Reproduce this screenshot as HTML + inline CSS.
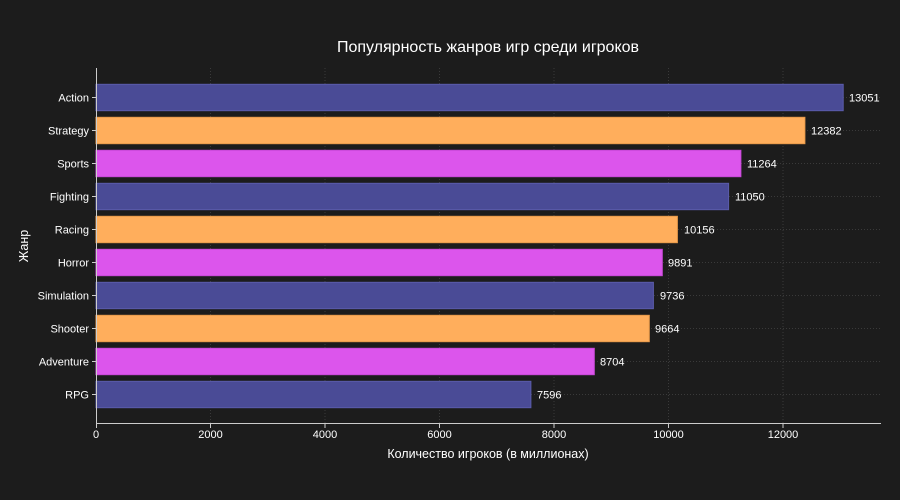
<!DOCTYPE html>
<html><head><meta charset="utf-8"><style>
html,body{margin:0;padding:0;background:#1c1c1c;}
svg{display:block;font-family:"Liberation Sans","DejaVu Sans",sans-serif;}
</style></head><body>
<svg width="900" height="500" viewBox="0 0 900 500" xmlns="http://www.w3.org/2000/svg">
<rect width="900" height="500" fill="#1c1c1c"/>
<text x="488" y="52" fill="#ffffff" font-size="16" text-anchor="middle">Популярность жанров игр среди игроков</text>
<g stroke="#3a3a3a" stroke-width="1" stroke-dasharray="1,2">
<line x1="210.5" y1="68" x2="210.5" y2="423"/>
<line x1="325" y1="68" x2="325" y2="423"/>
<line x1="439.5" y1="68" x2="439.5" y2="423"/>
<line x1="554" y1="68" x2="554" y2="423"/>
<line x1="668.5" y1="68" x2="668.5" y2="423"/>
<line x1="783" y1="68" x2="783" y2="423"/>
<line x1="96" y1="97.5" x2="880" y2="97.5"/>
<line x1="96" y1="130.5" x2="880" y2="130.5"/>
<line x1="96" y1="163.5" x2="880" y2="163.5"/>
<line x1="96" y1="196.5" x2="880" y2="196.5"/>
<line x1="96" y1="229.5" x2="880" y2="229.5"/>
<line x1="96" y1="262.5" x2="880" y2="262.5"/>
<line x1="96" y1="295.5" x2="880" y2="295.5"/>
<line x1="96" y1="328.5" x2="880" y2="328.5"/>
<line x1="96" y1="361.5" x2="880" y2="361.5"/>
<line x1="96" y1="394.5" x2="880" y2="394.5"/>
</g>
<g stroke-width="1">
<rect x="96" y="84.3" width="747.2" height="26.4" fill="#4a4b96" stroke="#5b5cab"/>
<rect x="96" y="117.3" width="708.9" height="26.4" fill="#ffae5c" stroke="#e89a4a"/>
<rect x="96" y="150.3" width="644.9" height="26.4" fill="#dc55ec" stroke="#c848d8"/>
<rect x="96" y="183.3" width="632.6" height="26.4" fill="#4a4b96" stroke="#5b5cab"/>
<rect x="96" y="216.3" width="581.4" height="26.4" fill="#ffae5c" stroke="#e89a4a"/>
<rect x="96" y="249.3" width="566.3" height="26.4" fill="#dc55ec" stroke="#c848d8"/>
<rect x="96" y="282.3" width="557.4" height="26.4" fill="#4a4b96" stroke="#5b5cab"/>
<rect x="96" y="315.3" width="553.3" height="26.4" fill="#ffae5c" stroke="#e89a4a"/>
<rect x="96" y="348.3" width="498.3" height="26.4" fill="#dc55ec" stroke="#c848d8"/>
<rect x="96" y="381.3" width="434.9" height="26.4" fill="#4a4b96" stroke="#5b5cab"/>
</g>
<g fill="#ffffff" font-size="11">
<text x="849" y="101.5">13051</text>
<text x="811" y="134.5">12382</text>
<text x="747" y="167.5">11264</text>
<text x="735" y="200.5">11050</text>
<text x="684" y="233.5">10156</text>
<text x="668" y="266.5">9891</text>
<text x="660" y="299.5">9736</text>
<text x="655" y="332.5">9664</text>
<text x="600" y="365.5">8704</text>
<text x="537" y="398.5">7596</text>
</g>
<g fill="#ffffff" font-size="11" text-anchor="end">
<text x="89" y="101.5">Action</text>
<text x="89" y="134.5">Strategy</text>
<text x="89" y="167.5">Sports</text>
<text x="89" y="200.5">Fighting</text>
<text x="89" y="233.5">Racing</text>
<text x="89" y="266.5">Horror</text>
<text x="89" y="299.5">Simulation</text>
<text x="89" y="332.5">Shooter</text>
<text x="89" y="365.5">Adventure</text>
<text x="89" y="398.5">RPG</text>
</g>
<g stroke="#cccccc" stroke-width="1">
<line x1="96.5" y1="68" x2="96.5" y2="424"/>
<line x1="96" y1="423.5" x2="881" y2="423.5"/>
<line x1="92" y1="97.5" x2="96" y2="97.5"/><line x1="92" y1="130.5" x2="96" y2="130.5"/>
<line x1="92" y1="163.5" x2="96" y2="163.5"/><line x1="92" y1="196.5" x2="96" y2="196.5"/>
<line x1="92" y1="229.5" x2="96" y2="229.5"/><line x1="92" y1="262.5" x2="96" y2="262.5"/>
<line x1="92" y1="295.5" x2="96" y2="295.5"/><line x1="92" y1="328.5" x2="96" y2="328.5"/>
<line x1="92" y1="361.5" x2="96" y2="361.5"/><line x1="92" y1="394.5" x2="96" y2="394.5"/>
<line x1="96.5" y1="424" x2="96.5" y2="428"/><line x1="210.5" y1="424" x2="210.5" y2="428"/>
<line x1="325" y1="424" x2="325" y2="428"/><line x1="439.5" y1="424" x2="439.5" y2="428"/>
<line x1="554" y1="424" x2="554" y2="428"/><line x1="668.5" y1="424" x2="668.5" y2="428"/>
<line x1="783" y1="424" x2="783" y2="428"/>
</g>
<g fill="#ffffff" font-size="11" text-anchor="middle">
<text x="96" y="438">0</text>
<text x="210.5" y="438">2000</text>
<text x="325" y="438">4000</text>
<text x="439.5" y="438">6000</text>
<text x="554" y="438">8000</text>
<text x="668.5" y="438">10000</text>
<text x="783" y="438">12000</text>
</g>
<text x="488" y="458" fill="#ffffff" font-size="12.5" text-anchor="middle">Количество игроков (в миллионах)</text>
<text x="0" y="0" fill="#ffffff" font-size="12.5" text-anchor="middle" transform="translate(28,246) rotate(-90)">Жанр</text>
</svg>
</body></html>
